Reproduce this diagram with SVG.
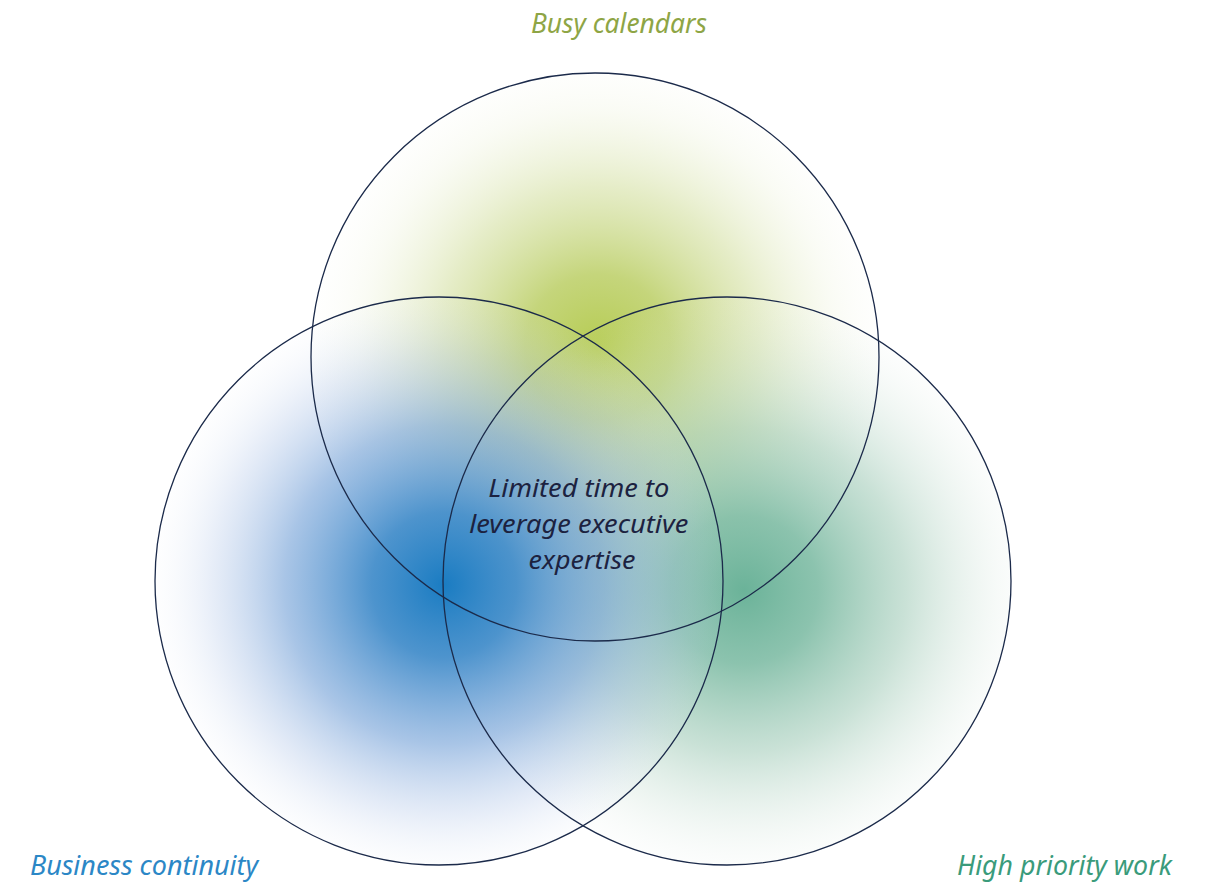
<svg xmlns="http://www.w3.org/2000/svg" width="1207" height="883" viewBox="0 0 1207 883">
<style>
.lbl{font-family:"Noto Sans","Liberation Sans",sans-serif;font-style:italic;}
.ring{fill:none;stroke:#1b2a4a;stroke-width:1.3;}
</style>
<defs>
<radialGradient id="gGreen" gradientUnits="userSpaceOnUse" cx="598" cy="347" r="290">
<stop offset="0" stop-color="#b2c94a" stop-opacity="0.95"/>
<stop offset="0.25" stop-color="#b8cc5e" stop-opacity="0.82"/>
<stop offset="0.55" stop-color="#c9d88a" stop-opacity="0.48"/>
<stop offset="0.82" stop-color="#dfe8bd" stop-opacity="0.16"/>
<stop offset="1" stop-color="#f2f5e6" stop-opacity="0.02"/>
</radialGradient>
<radialGradient id="gBlue" gradientUnits="userSpaceOnUse" cx="444" cy="585" r="290">
<stop offset="0" stop-color="#1a7cc2" stop-opacity="1"/>
<stop offset="0.25" stop-color="#3a88c8" stop-opacity="0.9"/>
<stop offset="0.55" stop-color="#6f9ed6" stop-opacity="0.6"/>
<stop offset="0.8" stop-color="#a9c0e6" stop-opacity="0.28"/>
<stop offset="1" stop-color="#e6ecf7" stop-opacity="0.05"/>
</radialGradient>
<radialGradient id="gTeal" gradientUnits="userSpaceOnUse" cx="744" cy="590" r="295">
<stop offset="0" stop-color="#5eac90" stop-opacity="0.92"/>
<stop offset="0.25" stop-color="#6fb49a" stop-opacity="0.8"/>
<stop offset="0.55" stop-color="#98c6b1" stop-opacity="0.52"/>
<stop offset="0.82" stop-color="#c9dfd3" stop-opacity="0.22"/>
<stop offset="1" stop-color="#eef4f0" stop-opacity="0.04"/>
</radialGradient>
</defs>
<rect width="1207" height="883" fill="#ffffff"/>
<g id="fills">
<circle cx="595" cy="357" r="284" fill="url(#gGreen)"/>
<circle cx="727" cy="581" r="284" fill="url(#gTeal)"/>
<circle cx="439" cy="581" r="284" fill="url(#gBlue)"/>
</g>
<g id="node-busy-calendars">
<circle class="ring" cx="595" cy="357" r="284"/>
<text class="lbl" x="619" y="33" font-size="27" fill="#8ea545" text-anchor="middle" textLength="176" lengthAdjust="spacingAndGlyphs">Busy calendars</text>
</g>
<g id="node-business-continuity">
<circle class="ring" cx="439" cy="581" r="284"/>
<text class="lbl" x="30" y="875" font-size="27" fill="#2b87c6" textLength="228" lengthAdjust="spacingAndGlyphs">Business continuity</text>
</g>
<g id="node-high-priority-work">
<circle class="ring" cx="727" cy="581" r="284"/>
<text class="lbl" x="957" y="875" font-size="27" fill="#3a9b7b" textLength="215" lengthAdjust="spacingAndGlyphs">High priority work</text>
</g>
<g id="node-center">
<text class="lbl" font-size="25" fill="#1c2240" text-anchor="middle">
<tspan x="582" y="497" textLength="181" lengthAdjust="spacingAndGlyphs">Limited time to</tspan>
<tspan x="582" y="533" textLength="219" lengthAdjust="spacingAndGlyphs">leverage executive</tspan>
<tspan x="582" y="569" textLength="107" lengthAdjust="spacingAndGlyphs">expertise</tspan>
</text>
</g>
<g id="connectors"></g>
</svg>
